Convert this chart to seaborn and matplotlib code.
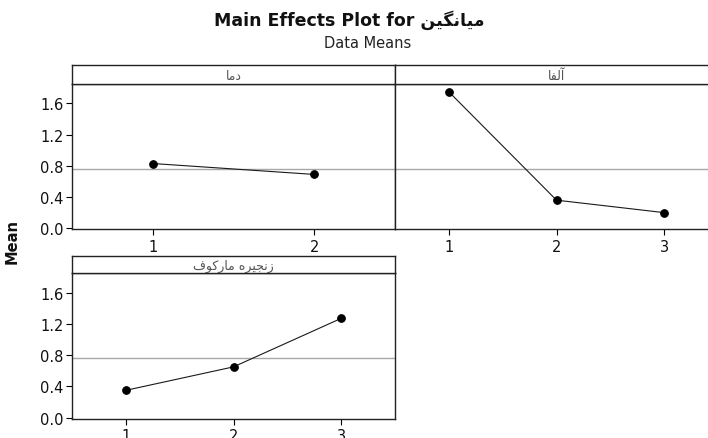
import matplotlib
matplotlib.use("Agg")
import matplotlib.pyplot as plt
import seaborn as sns

sns.set_theme(style="white")
plt.rcParams["font.family"] = ["DejaVu Sans"]

# Persian labels, written in Arabic presentation forms (visual order) so the
# letters come out joined and right-to-left without a shaping library.
response_name = "\uFEE6\uFEF4\uFB95\uFEE7\uFE8E\uFEF4\uFEE3"          # میانگین
temp_name = "\uFE8E\uFEE3\uFEA9"                                       # دما
alpha_name = "\uFE8E\uFED4\uFEDF\uFE81"                                # آلفا
markov_name = ("\uFED1\uFEEE\uFB90\uFEAD\uFE8E\uFEE3 "
               "\uFEE9\uFEAE\uFEF4\uFEA0\uFEE7\uFEAF")                 # زنجیره مارکوف

# Factor levels and the mean response at each level
temp_levels = [1, 2]
temp_means = [0.83, 0.69]
alpha_levels = [1, 2, 3]
alpha_means = [1.75, 0.36, 0.20]
markov_levels = [1, 2, 3]
markov_means = [0.35, 0.65, 1.27]
grand_mean = 0.76

y_ticks = [0.0, 0.4, 0.8, 1.2, 1.6]

W, H = 708, 439
fig = plt.figure(figsize=(W / 100, H / 100), dpi=100)


def frac(x0, y_top, x1, y_bot):
    return [x0 / W, 1 - y_bot / H, (x1 - x0) / W, (y_bot - y_top) / H]


def panel(x0, x1, strip_top, strip_bot, plot_bot, levels, means, name, show_y):
    ax = fig.add_axes(frac(x0, strip_bot, x1, plot_bot))
    strip = fig.add_axes(frac(x0, strip_top, x1, strip_bot))
    sns.lineplot(x=levels, y=means, ax=ax, color="#1a1a1a", lw=0.8,
                 marker="o", markersize=5.5, markeredgecolor="black",
                 markerfacecolor="black")
    ax.axhline(grand_mean, color="#a8a8a8", lw=1, zorder=0)
    ax.set_xlim(0.5, len(levels) + 0.5)
    ax.set_ylim(-0.01, 1.85)
    ax.set_xticks(levels)
    ax.set_xticklabels([str(v) for v in levels])
    ax.set_yticks(y_ticks)
    ax.set_yticklabels([f"{v:.1f}" for v in y_ticks])
    ax.tick_params(axis="x", bottom=True, length=4, width=0.8, color="black",
                   labelsize=10.5, pad=3, labelcolor="#111111")
    ax.tick_params(axis="y", left=show_y, labelleft=show_y, length=4,
                   width=0.8, color="black", labelsize=10.5, pad=2,
                   labelcolor="#111111")
    for sp in ax.spines.values():
        sp.set_color("#222222")
        sp.set_linewidth(1.0)
    strip.set_xticks([])
    strip.set_yticks([])
    for sp in strip.spines.values():
        sp.set_color("#222222")
        sp.set_linewidth(1.0)
    strip.text(0.5, 0.45, name, ha="center", va="center", fontsize=9,
               color="#555555", transform=strip.transAxes)
    return ax


panel(72, 395, 66, 85, 230, temp_levels, temp_means, temp_name, True)
panel(395, 718, 66, 85, 230, alpha_levels, alpha_means, alpha_name, False)
panel(72, 395, 257, 274, 419.5, markov_levels, markov_means, markov_name, True)

fig.text(349 / W, 1 - 20 / H, "Main Effects Plot for " + response_name,
         ha="center", va="center", fontsize=12.5, fontweight="bold",
         color="#111111")
fig.text(368 / W, 1 - 44 / H, "Data Means", ha="center", va="center",
         fontsize=10.5, color="#222222")
fig.text(12 / W, 1 - 242 / H, "Mean", ha="center", va="center",
         rotation=90, fontsize=10.5, fontweight="bold", color="#111111")

fig.savefig("out.png", dpi=100, facecolor="white")
